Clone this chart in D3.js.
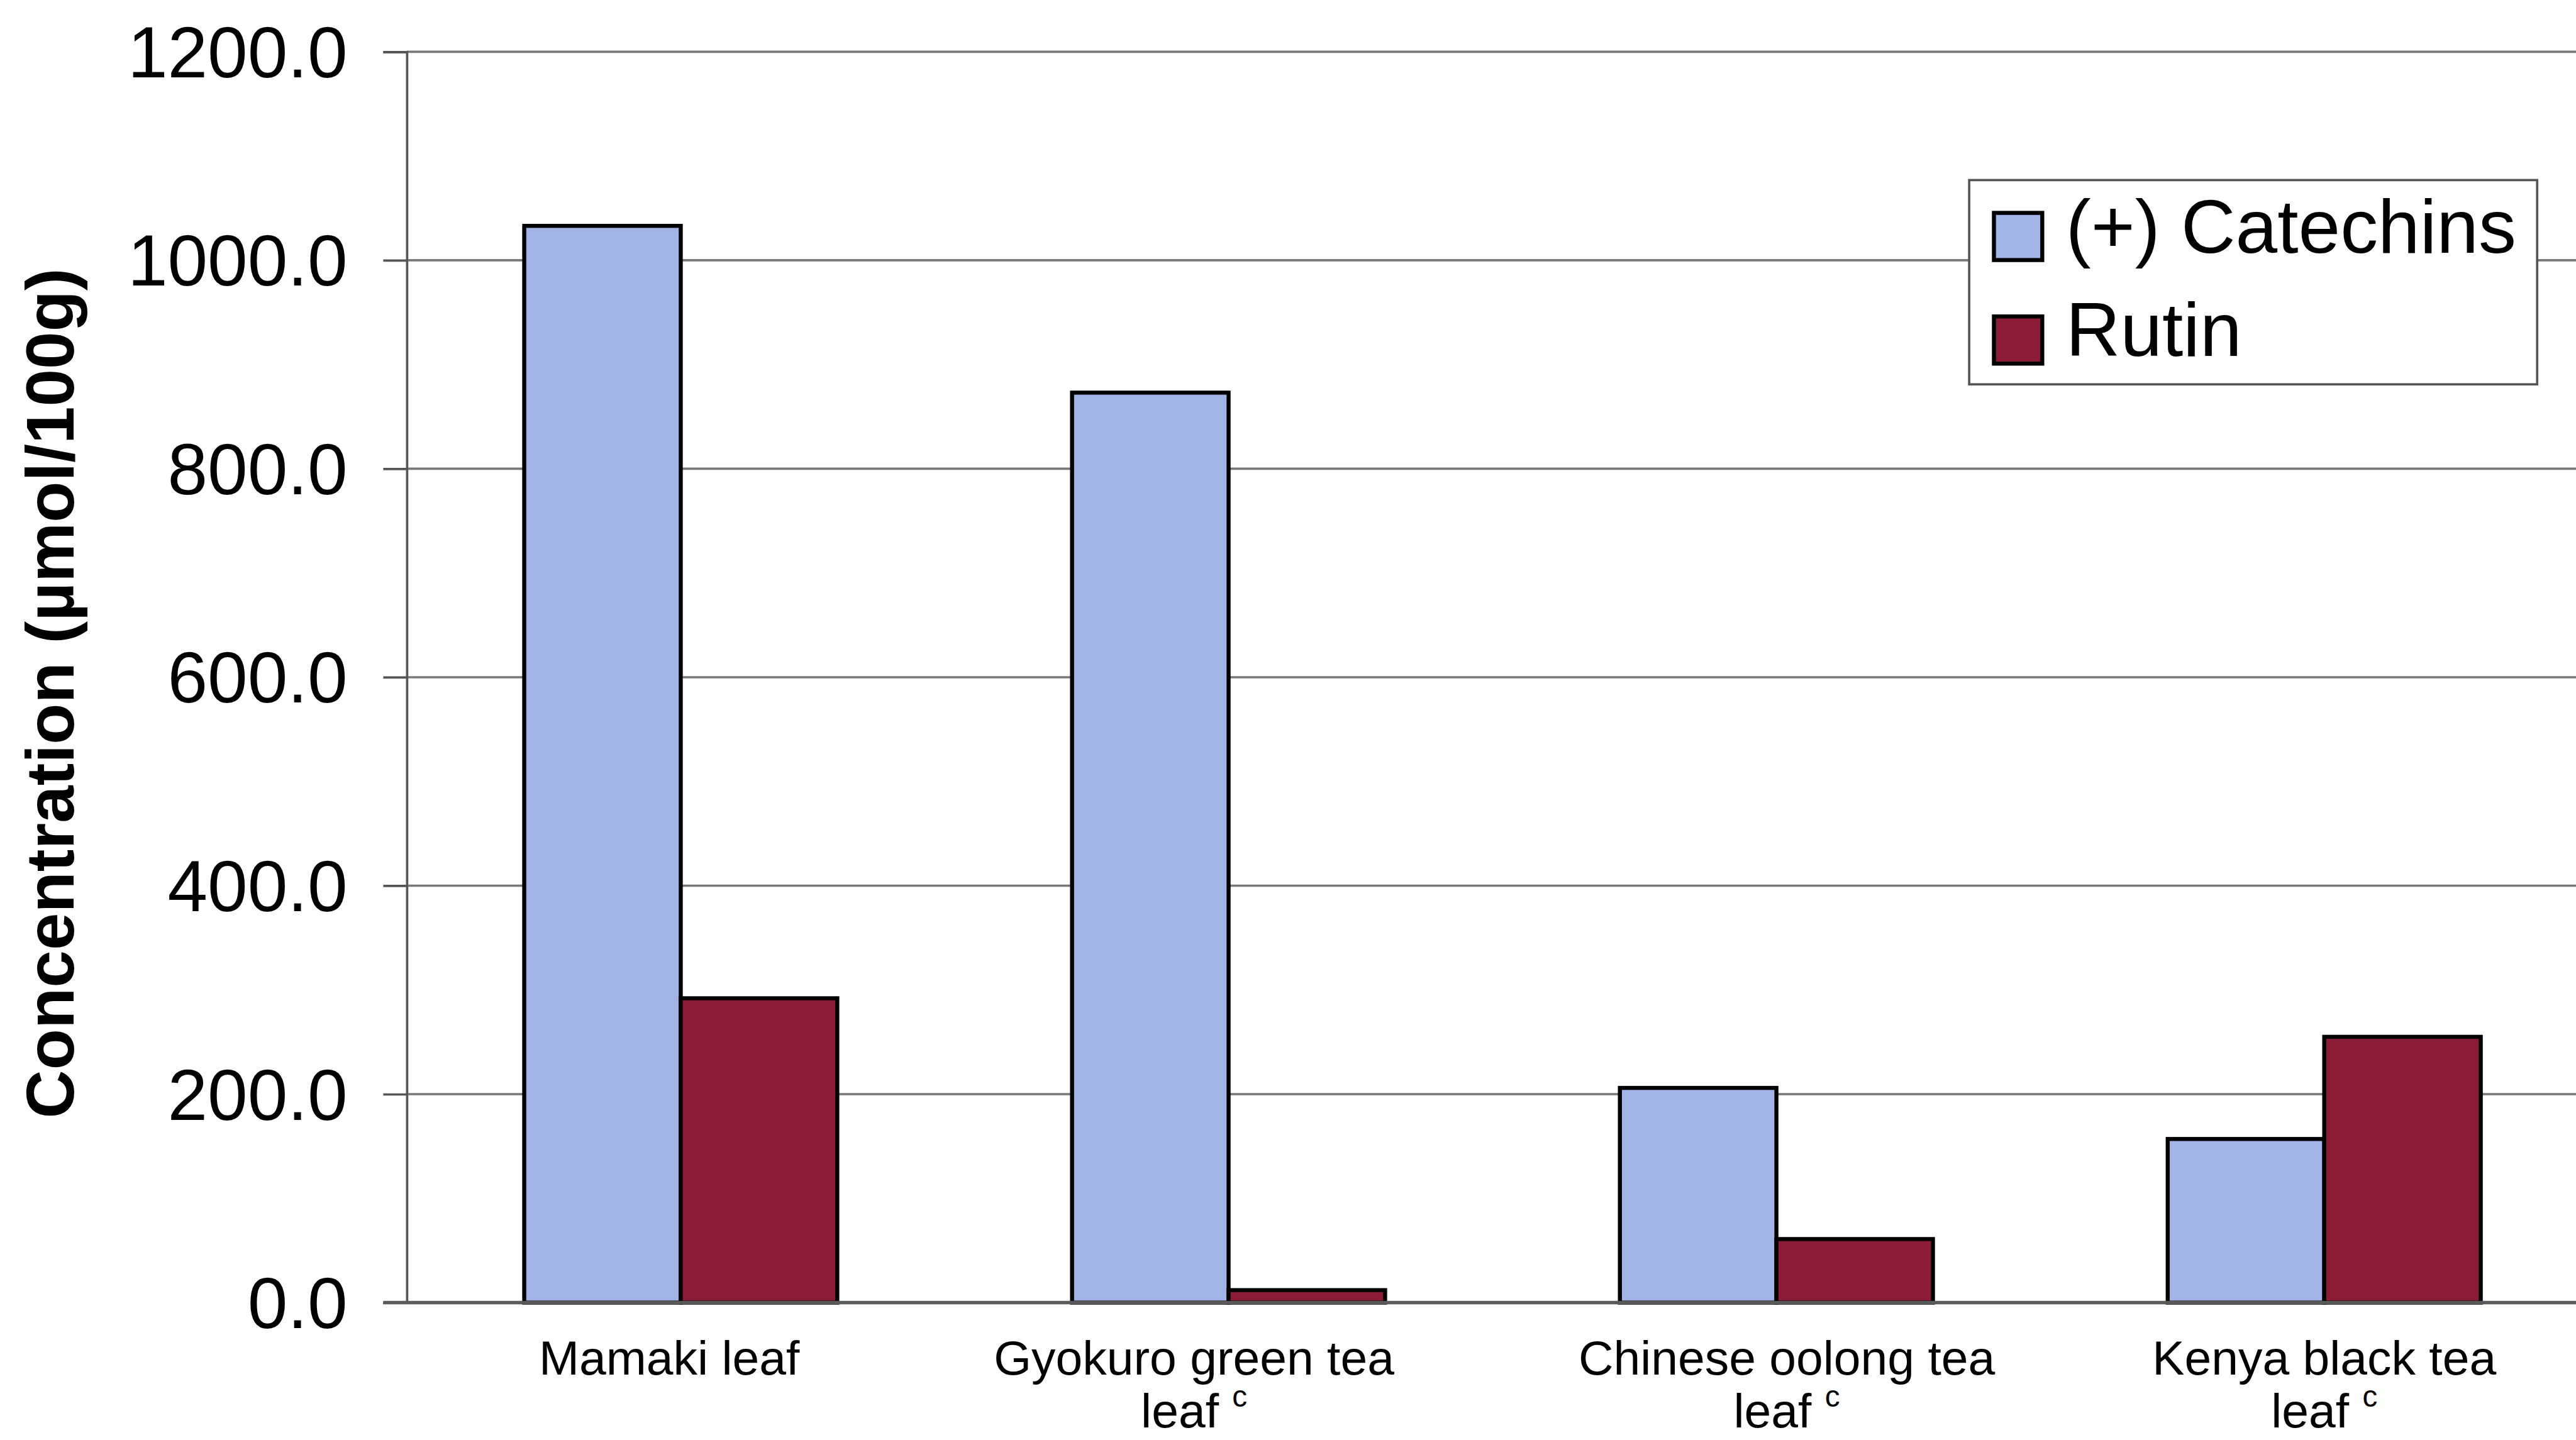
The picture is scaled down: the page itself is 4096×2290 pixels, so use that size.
<!DOCTYPE html>
<html>
<head>
<meta charset="utf-8">
<script src="https://cdn.jsdelivr.net/npm/d3@7/dist/d3.min.js"></script>
<style>
  html, body { margin: 0; padding: 0; background: #ffffff; }
  svg { display: block; }
  text { font-family: "Liberation Sans", Arial, Helvetica, sans-serif; fill: #000; }
</style>
</head>
<body>
<script>
// ---- data ----
const categories = ["Mamaki leaf", "Gyokuro green tea leaf", "Chinese oolong tea leaf", "Kenya black tea leaf"];
const categoryLines = [["Mamaki leaf"], ["Gyokuro green tea", "leaf"], ["Chinese oolong tea", "leaf"], ["Kenya black tea", "leaf"]];
const footnotes = ["", "c", "c", "c"];
const seriesNames = ["(+) Catechins", "Rutin"];
const catechins = [1033, 873, 206, 157];
const rutin = [292, 12, 61, 255];
const yTicks = [0, 200, 400, 600, 800, 1000, 1200];

// ---- layout (drawn on a 4474 x 2501 design grid, then scaled) ----
const W = 4096, H = 2290, S = 0.915;
const plot = { left: 707, top: 90, bottom: 2264, band: 952 };
const colors = ["#a2b3e5", "#8c1c35"];
const labelShift = [-20, -60, 18, 0];

const svg = d3.select("body").append("svg")
  .attr("width", W).attr("height", H)
  .attr("viewBox", `0 0 ${W} ${H}`);
svg.append("rect").attr("width", W).attr("height", H).attr("fill", "#fff");

const g = svg.append("g").attr("transform", `scale(${S})`);

const x0 = d3.scaleBand().domain(categories)
  .range([plot.left, plot.left + plot.band * categories.length])
  .paddingInner(0).paddingOuter(0);
const x1 = d3.scaleBand().domain(seriesNames)
  .range([0, x0.bandwidth()])
  .paddingInner(0).paddingOuter(0.75);
const y = d3.scaleLinear().domain([0, 1200]).range([plot.bottom, plot.top]);

const rows = categories.map((c, i) => ({
  cat: c,
  values: [
    { name: seriesNames[0], v: catechins[i] },
    { name: seriesNames[1], v: rutin[i] }
  ]
}));

// horizontal gridlines
g.append("g").selectAll("line")
  .data(yTicks.filter(t => t > 0))
  .join("line")
  .attr("x1", plot.left).attr("x2", x0.range()[1])
  .attr("y1", d => y(d)).attr("y2", d => y(d))
  .attr("stroke", "#777").attr("stroke-width", 4);

// y axis
const yAxis = g.append("g")
  .attr("transform", `translate(${plot.left},0)`)
  .call(d3.axisLeft(y).tickValues(yTicks).tickFormat(d3.format(".1f"))
    .tickSize(41).tickPadding(62));
yAxis.select(".domain").attr("stroke", "#555").attr("stroke-width", 4);
yAxis.selectAll(".tick line").attr("stroke", "#555").attr("stroke-width", 4);
yAxis.selectAll(".tick text")
  .attr("font-size", 125)
  .attr("font-family", "Liberation Sans, Arial, sans-serif")
  .attr("fill", "#000")
  .attr("dy", "0.35em");

// bars
const groups = g.append("g").selectAll("g")
  .data(rows).join("g")
  .attr("transform", d => `translate(${x0(d.cat)},0)`);
groups.selectAll("rect")
  .data(d => d.values).join("rect")
  .attr("x", d => x1(d.name))
  .attr("width", x1.bandwidth())
  .attr("y", d => y(d.v))
  .attr("height", d => y(0) - y(d.v))
  .attr("fill", (d, i) => colors[i])
  .attr("stroke", "#000").attr("stroke-width", 7);

// x axis baseline
g.append("line")
  .attr("x1", plot.left - 41).attr("x2", x0.range()[1])
  .attr("y1", y(0)).attr("y2", y(0))
  .attr("stroke", "#5a5a5a").attr("stroke-width", 6);

// category labels
const labels = g.append("g").selectAll("g")
  .data(categories).join("g")
  .attr("transform", (d, i) => `translate(${x0(d) + x0.bandwidth() / 2 + labelShift[i]},0)`);
labels.each(function(d, i) {
  const lines = categoryLines[i];
  lines.forEach((ln, k) => {
    const t = d3.select(this).append("text")
      .attr("text-anchor", "middle")
      .attr("font-size", 84)
      .attr("y", 2389 + k * 92);
    t.append("tspan").text(ln);
    if (k === lines.length - 1 && footnotes[i]) {
      t.append("tspan").text("\u00a0");
      t.append("tspan").attr("font-size", 52).attr("dy", -36).text(footnotes[i]);
    }
  });
});

// y axis title
g.append("text")
  .attr("transform", "translate(128,1205) rotate(-90)")
  .attr("text-anchor", "middle")
  .attr("font-size", 117)
  .attr("font-weight", "bold")
  .text("Concentration (\u00b5mol/100g)");

// legend
const lg = g.append("g");
lg.append("rect")
  .attr("x", 3422).attr("y", 313).attr("width", 987).attr("height", 355)
  .attr("fill", "#fff").attr("stroke", "#555").attr("stroke-width", 4);
const items = lg.selectAll("g.item")
  .data(seriesNames).join("g").attr("class", "item")
  .attr("transform", (d, i) => `translate(3465,${370 + i * 180})`);
items.append("rect")
  .attr("width", 84).attr("height", 82)
  .attr("fill", (d, i) => colors[i])
  .attr("stroke", "#000").attr("stroke-width", 7);
items.append("text")
  .attr("x", 125).attr("y", 69)
  .attr("font-size", 131)
  .text(d => d);
</script>
</body>
</html>
